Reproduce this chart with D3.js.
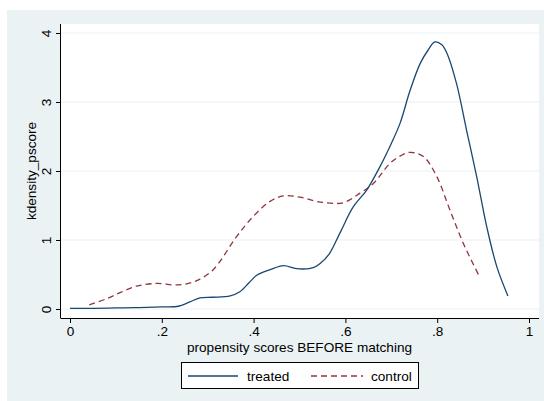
<!DOCTYPE html>
<html>
<head>
<meta charset="utf-8">
<style>
    body { margin: 0; background: #fff; }
    svg text { font-family: "Liberation Sans", Arial, sans-serif; fill: #000; }
</style>
</head>
<body>
<svg width="544" height="401"></svg>
<script src="https://d3js.org/d3.v7.min.js"></script>
<script>
    // kernel density of propensity scores
    var treatedX = [0.0, 0.05, 0.1, 0.15, 0.2, 0.236, 0.26, 0.283, 0.31, 0.349, 0.37, 0.39, 0.407, 0.436, 0.465, 0.49, 0.508, 0.53, 0.545, 0.565, 0.588, 0.617, 0.646, 0.675, 0.7, 0.719, 0.741, 0.763, 0.78, 0.795, 0.81, 0.821, 0.842, 0.864, 0.886, 0.908, 0.93, 0.954];
    var treatedY = [0.01, 0.01, 0.015, 0.02, 0.03, 0.04, 0.10, 0.16, 0.17, 0.19, 0.25, 0.38, 0.49, 0.57, 0.63, 0.59, 0.58, 0.60, 0.66, 0.80, 1.10, 1.48, 1.72, 2.06, 2.40, 2.69, 3.17, 3.56, 3.75, 3.87, 3.83, 3.71, 3.27, 2.59, 1.92, 1.19, 0.61, 0.19];

    var controlX = [0.042, 0.08, 0.11, 0.145, 0.189, 0.225, 0.25, 0.276, 0.312, 0.363, 0.399, 0.436, 0.465, 0.501, 0.545, 0.595, 0.632, 0.661, 0.697, 0.72, 0.741, 0.770, 0.799, 0.828, 0.857, 0.892];
    var controlY = [0.06, 0.15, 0.24, 0.33, 0.37, 0.35, 0.36, 0.41, 0.57, 1.05, 1.34, 1.56, 1.64, 1.62, 1.55, 1.54, 1.68, 1.82, 2.11, 2.22, 2.27, 2.21, 1.92, 1.43, 0.95, 0.47];

    var xTicks = [0, 0.2, 0.4, 0.6, 0.8, 1];
    var xTickLabels = ["0", ".2", ".4", ".6", ".8", "1"];
    var yTicks = [0, 1, 2, 3, 4];
    var seriesNames = ["treated", "control"];

    var svg = d3.select("svg");

    var navy = "#1a476f", maroon = "#90353b", bg = "#eaf2f3";
    var fontSize = 13.6;

    // outer graph region
    svg.append("rect")
        .attr("x", 7).attr("y", 10)
        .attr("width", 537).attr("height", 391)
        .attr("fill", bg);

    // plot region
    var plot = {left: 61, top: 24, right: 539, bottom: 318};
    svg.append("rect")
        .attr("x", plot.left).attr("y", plot.top)
        .attr("width", plot.right - plot.left).attr("height", plot.bottom - plot.top)
        .attr("fill", "#fff");

    var x = d3.scaleLinear().domain([0, 1]).range([70, 529]);
    var y = d3.scaleLinear().domain([0, 4]).range([309, 33]);

    // grid lines
    svg.append("g").selectAll("line")
        .data(yTicks)
        .enter().append("line")
        .attr("x1", plot.left).attr("x2", plot.right)
        .attr("y1", function (d) { return y(d); })
        .attr("y2", function (d) { return y(d); })
        .attr("stroke", bg)
        .attr("stroke-width", 1.2);

    // x axis
    var gx = svg.append("g")
        .attr("transform", "translate(0," + plot.bottom + ")")
        .call(d3.axisBottom(x).tickValues(xTicks)
            .tickFormat(function (d, i) { return xTickLabels[i]; })
            .tickSizeOuter(0).tickSize(5).tickPadding(3.5));
    gx.select(".domain").attr("d", "M" + plot.left + ",0.5H" + plot.right).attr("stroke", "#000");
    gx.selectAll(".tick line").attr("stroke", "#000");
    gx.selectAll("text").attr("font-size", fontSize).attr("font-family", "Liberation Sans, Arial, sans-serif");

    // y axis
    var gy = svg.append("g")
        .attr("transform", "translate(" + plot.left + ",0)")
        .call(d3.axisLeft(y).tickValues(yTicks).tickFormat(d3.format("d")).tickSizeOuter(0).tickSize(5));
    gy.select(".domain").attr("d", "M-0.5," + plot.top + "V" + (plot.bottom + 0.5)).attr("stroke", "#000");
    gy.selectAll(".tick line").attr("stroke", "#000");
    gy.selectAll(".tick text")
        .attr("x", null).attr("dy", null)
        .attr("font-size", fontSize).attr("font-family", "Liberation Sans, Arial, sans-serif")
        .attr("text-anchor", "middle")
        .attr("transform", "translate(-10.5,0) rotate(-90)");

    // axis titles
    svg.append("text")
        .attr("x", (x(0) + x(1)) / 2).attr("y", 352)
        .attr("text-anchor", "middle")
        .attr("font-size", fontSize)
        .text("propensity scores BEFORE matching");

    svg.append("text")
        .attr("transform", "translate(35.5," + ((y(0) + y(4)) / 2) + ") rotate(-90)")
        .attr("text-anchor", "middle")
        .attr("font-size", fontSize)
        .text("kdensity_pscore");

    var line = d3.line()
        .x(function (d) { return x(d[0]); })
        .y(function (d) { return y(d[1]); })
        .curve(d3.curveCatmullRom.alpha(0.5));

    var treated = d3.zip(treatedX, treatedY);
    var control = d3.zip(controlX, controlY);

    svg.append("path")
        .datum(control)
        .attr("fill", "none")
        .attr("stroke", maroon)
        .attr("stroke-width", 1.3)
        .attr("stroke-dasharray", "6,4")
        .attr("d", line);

    svg.append("path")
        .datum(treated)
        .attr("fill", "none")
        .attr("stroke", navy)
        .attr("stroke-width", 1.3)
        .attr("d", line);

    // legend
    var legend = svg.append("g");
    legend.append("rect")
        .attr("x", 181.5).attr("y", 362.5)
        .attr("width", 237).attr("height", 26)
        .attr("fill", "#fff")
        .attr("stroke", "#000")
        .attr("stroke-width", 1);

    var legendItems = [
        {name: seriesNames[0], color: navy, dash: null, x1: 188, x2: 238, tx: 247},
        {name: seriesNames[1], color: maroon, dash: "6,4", x1: 311, x2: 363, tx: 371}
    ];
    legendItems.forEach(function (d) {
        legend.append("line")
            .attr("x1", d.x1).attr("x2", d.x2)
            .attr("y1", 376).attr("y2", 376)
            .attr("stroke", d.color)
            .attr("stroke-width", 1.3)
            .attr("stroke-dasharray", d.dash);
        legend.append("text")
            .attr("x", d.tx).attr("y", 381)
            .attr("font-size", fontSize)
            .text(d.name);
    });
</script>
</body>
</html>
